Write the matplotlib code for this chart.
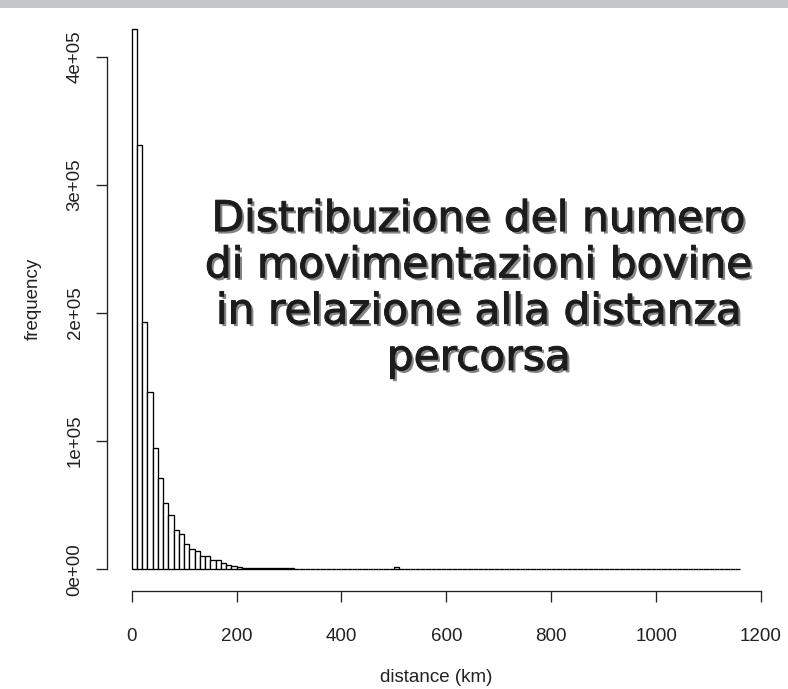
import numpy as np
import matplotlib
matplotlib.use('Agg')
import matplotlib.pyplot as plt
import matplotlib.patheffects as pe
from matplotlib.patches import Rectangle

# histogram of movement distances, 10 km bins starting at 0
bin_width = 10
counts = [
    422000, 331000, 193000, 138000, 95000, 71000, 52000, 42000, 30700, 27300,
    19700, 15500, 14500, 10500, 10400, 7500, 7400, 5200, 3200, 2400,
    1800, 1100, 1000, 1000, 950, 900, 900, 850, 800, 800,
    750, 300, 250, 220, 200, 180, 170, 160, 150, 140,
    130, 120, 120, 110, 100, 100, 90, 90, 80, 80,
    1800, 80, 70, 60, 60, 50, 50, 50, 40, 40,
    40, 40, 30, 30, 30, 30, 30, 30, 20, 20,
    20, 20, 20, 20, 20, 20, 20, 15, 15, 15,
    15, 15, 15, 15, 10, 10, 10, 10, 10, 10,
    10, 10, 10, 10, 8, 8, 8, 8, 8, 8,
    6, 6, 6, 6, 6, 5, 5, 5, 5, 5,
    4, 4, 3, 3, 2, 2,
]

x_ticks = [0, 200, 400, 600, 800, 1000, 1200]
y_ticks = [0, 100000, 200000, 300000, 400000]
y_labels = ['0e+00', '1e+05', '2e+05', '3e+05', '4e+05']

title_lines = ['Distribuzione del numero',
               'di movimentazioni bovine',
               'in relazione alla distanza',
               'percorsa']

W, H = 788, 689
fig = plt.figure(figsize=(W / 100, H / 100), dpi=100)

# plot region (R style, 4% padding around data)
left, right, top, bottom = 107.3, 764.4, 6.9, 590.9
ax = fig.add_axes([left / W, 1 - bottom / H, (right - left) / W, (bottom - top) / H])

lefts = np.arange(len(counts)) * bin_width
ax.bar(lefts, counts, width=bin_width, align='edge',
       facecolor='white', edgecolor='black', linewidth=0.95)

xmax = lefts[-1] + bin_width
ax.set_xlim(-0.04 * xmax, xmax * 1.04)
ymax = max(counts)
ax.set_ylim(-0.04 * ymax, ymax * 1.04)

for s in ['top', 'right']:
    ax.spines[s].set_visible(False)
ax.spines['left'].set_bounds(y_ticks[0], y_ticks[-1])
ax.spines['bottom'].set_bounds(x_ticks[0], x_ticks[-1])
for s in ['left', 'bottom']:
    ax.spines[s].set_linewidth(0.95)
    ax.spines[s].set_color('#222222')

font = 'Liberation Sans'
ax.set_xticks(x_ticks)
ax.set_xticklabels([str(v) for v in x_ticks], fontsize=13.5, family=font, color='#222222')
ax.set_yticks(y_ticks)
ax.set_yticklabels(y_labels, fontsize=13.5, family=font, color='#222222',
                   rotation=90, va='center')
ax.tick_params(axis='x', length=8, width=0.95, color='#222222', pad=19)
ax.tick_params(axis='y', length=8, width=0.95, color='#222222', pad=9)

fig.text(33 / W, 1 - 299 / H, 'frequency', rotation=90, ha='center', va='center',
         fontsize=13.5, family=font, color='#222222')
fig.text(436 / W, 1 - 678 / H, 'distance (km)', ha='center', va='center',
         fontsize=13.5, family=font, color='#222222')

# slide title overlaid on the plot
fig.text(479 / W, 1 - 288.5 / H, '\n'.join(title_lines), ha='center', va='center',
         multialignment='center', linespacing=1.13, fontsize=30.5,
         family='DejaVu Sans', color='#1c1c1c',
         path_effects=[pe.SimplePatchShadow(offset=(1.8, -1.8), shadow_rgbFace='#666666', alpha=0.8),
                       pe.Stroke(linewidth=0.7, foreground='#1c1c1c'),
                       pe.Normal()])

# gray strip at top of slide
fig.patches.append(Rectangle((0, 1 - 8.3 / H), 1, 8.3 / H, transform=fig.transFigure,
                             facecolor='#c4c7ca', edgecolor='none', zorder=10))

fig.savefig('out.png', dpi=100)
